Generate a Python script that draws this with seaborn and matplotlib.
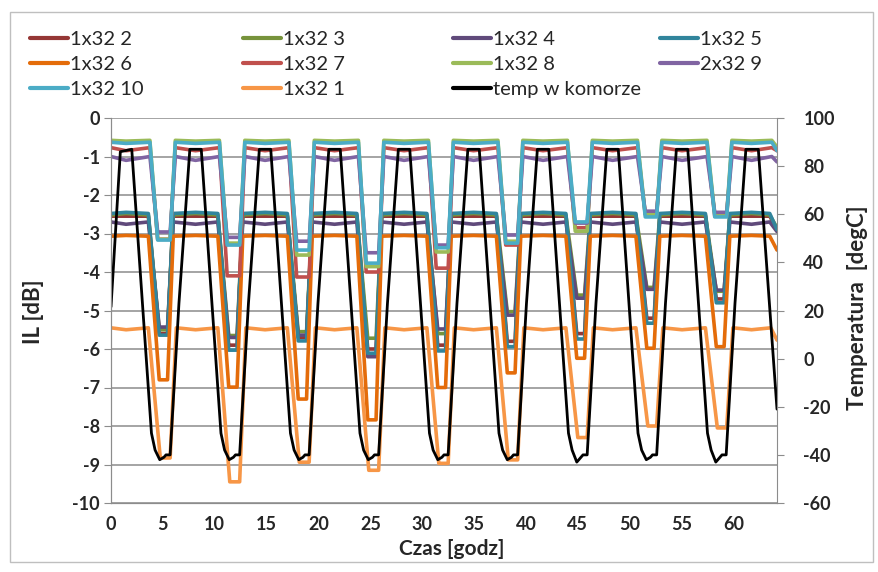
import matplotlib
matplotlib.use("Agg")
import matplotlib.pyplot as plt
from matplotlib.patches import Rectangle
from matplotlib.ticker import MultipleLocator
import seaborn as sns

# ------------------------------------------------------------------
# Breakpoint times [godz]
# each cycle: plateau end, dip start, dip end, plateau back, warm peak
# ------------------------------------------------------------------
t_up = [0.0, 1.45,
        3.75, 4.5, 5.7, 6.2, 8.15,
        10.45, 11.2, 12.4, 12.9, 14.85,
        17.15, 17.9, 19.1, 19.6, 21.55,
        23.85, 24.6, 25.8, 26.3, 28.25,
        30.6, 31.35, 32.5, 33.0, 34.95,
        37.3, 38.05, 39.2, 39.7, 41.65,
        44.0, 44.75, 45.9, 46.4, 48.35,
        50.75, 51.5, 52.6, 53.1, 55.05,
        57.45, 58.2, 59.35, 59.85, 61.75,
        63.7, 64.2]

t_low = [0.0, 1.45,
         3.6, 4.65, 5.45, 6.0, 8.15,
         10.3, 11.35, 12.15, 12.7, 14.85,
         17.0, 18.05, 18.85, 19.4, 21.55,
         23.7, 24.75, 25.55, 26.1, 28.25,
         30.45, 31.5, 32.25, 32.8, 34.95,
         37.15, 38.2, 38.95, 39.5, 41.65,
         43.85, 44.9, 45.65, 46.2, 48.35,
         50.6, 51.65, 52.35, 52.9, 55.05,
         57.3, 58.35, 59.1, 59.65, 61.75,
         63.5, 64.2]

t_ref = [0.0, 1.45,
         3.6, 4.75, 5.7, 6.3, 8.15,
         10.3, 11.45, 12.4, 13.0, 14.85,
         17.0, 18.15, 19.1, 19.7, 21.55,
         23.7, 24.85, 25.8, 26.4, 28.25,
         30.45, 31.6, 32.5, 33.1, 34.95,
         37.15, 38.3, 39.2, 39.8, 41.65,
         43.85, 45.0, 45.9, 46.5, 48.35,
         50.6, 51.75, 52.6, 53.2, 55.05,
         57.3, 58.45, 59.35, 59.95, 61.75,
         63.6, 64.2]

# chamber temperature [degC]
t_temp = [0.0,
          0.9, 2.0, 3.4, 3.9, 4.25, 4.7, 5.1, 5.3, 5.7, 6.55,
          7.6, 8.7, 10.1, 10.6, 10.95, 11.4, 11.8, 12.0, 12.4, 13.25,
          14.3, 15.4, 16.8, 17.3, 17.65, 18.1, 18.5, 18.7, 19.1, 19.95,
          21.0, 22.1, 23.5, 24.0, 24.35, 24.8, 25.2, 25.4, 25.8, 26.65,
          27.7, 28.8, 30.2, 30.7, 31.05, 31.5, 31.9, 32.1, 32.5, 33.35,
          34.4, 35.5, 36.9, 37.4, 37.75, 38.2, 38.6, 38.8, 39.2, 40.05,
          41.1, 42.2, 43.6, 44.1, 44.45, 44.9, 45.3, 45.5, 45.9, 46.75,
          47.8, 48.9, 50.3, 50.8, 51.15, 51.6, 52.0, 52.2, 52.6, 53.45,
          54.5, 55.6, 57.0, 57.5, 57.85, 58.3, 58.7, 58.9, 59.3, 60.15,
          61.2, 62.4, 64.2]
temp = [21.5,
        86, 87, 0, -31, -38, -42, -41, -40, -40, 23,
        87, 87, 0, -31, -38, -42, -41, -40, -40, 23,
        87, 87, 0, -31, -38, -42, -41, -40, -40, 23,
        87, 87, 0, -31, -38, -42, -41, -40, -40, 23,
        87, 87, 0, -31, -38, -42, -41, -40, -40, 23,
        87, 87, 0, -31, -38, -42, -41, -40, -40, 23,
        87, 87, 0, -31, -38, -43, -41, -40, -40, 23,
        87, 87, 0, -31, -38, -42, -41, -40, -40, 23,
        87, 87, 0, -31, -38, -43, -41, -40, -40, 23,
        87, 87, -21]

# ------------------------------------------------------------------
# IL levels [dB]: plateau, value at warm peak, 9 cold dips, last value
# ------------------------------------------------------------------
names = ["1x32 2", "1x32 3", "1x32 4", "1x32 5", "1x32 6",
         "1x32 7", "1x32 8", "2x32 9", "1x32 10", "1x32 1"]
colors = ["#953735", "#77933C", "#604A7B", "#31859C", "#E46C0A",
          "#C0504D", "#9BBB59", "#8064A2", "#4BACC6", "#F79646"]
plateau = [-2.55, -2.52, -2.7, -2.48, -3.07, -0.77, -0.58, -1.0, -0.63, -5.45]
at_peak = [-2.55, -2.48, -2.76, -2.45, -3.05, -0.85, -0.6, -1.1, -0.66, -5.5]
last = [-2.9, -2.85, -2.95, -2.9, -3.43, -0.85, -0.75, -1.14, -0.85, -5.77]

dips_2 = [-5.6, -5.9, -5.7, -6.0, -5.9, -5.8, -5.6, -5.2, -4.7]
dips_3 = [-5.5, -5.65, -5.55, -5.72, -5.6, -5.03, -4.6, -4.4, -4.5]
dips_4 = [-5.43, -5.7, -5.64, -6.2, -5.48, -5.12, -4.68, -4.45, -4.47]
dips_5 = [-5.64, -6.03, -5.79, -6.11, -6.05, -5.94, -5.74, -5.33, -4.8]
dips_6 = [-6.8, -6.99, -7.3, -7.84, -7.0, -6.62, -6.24, -5.98, -5.94]
dips_7 = [-3.15, -4.1, -4.13, -4.0, -3.9, -3.3, -2.85, -2.5, -2.55]
dips_8 = [-3.15, -3.25, -3.56, -3.86, -3.48, -3.2, -2.94, -2.5, -2.5]
dips_9 = [-2.96, -3.1, -3.2, -3.5, -3.3, -3.04, -2.73, -2.42, -2.45]
dips_10 = [-3.17, -3.3, -3.43, -3.77, -3.37, -3.25, -2.7, -2.57, -2.57]
dips_1 = [-8.83, -9.45, -8.94, -9.15, -8.97, -8.88, -8.3, -8.0, -8.05]

dips = [dips_2, dips_3, dips_4, dips_5, dips_6,
        dips_7, dips_8, dips_9, dips_10, dips_1]
times = [t_low, t_low, t_low, t_low, t_low,
         t_up, t_up, t_up, t_up, t_ref]


def vertices(hi, pk, dip, end):
    # arrange the read levels in the same order as the breakpoint times
    y = [hi, pk]
    for d in dip:
        y += [hi, d, d, hi, pk]
    y += [hi, end]
    return y


sns.set_style("white")
plt.rcParams["font.family"] = ["Lato", "DejaVu Sans"]
plt.rcParams["axes.unicode_minus"] = False

fig = plt.figure(figsize=(8.79, 5.72), dpi=100)
ax = fig.add_axes([111 / 879, 1 - 503 / 572, 666 / 879, 385 / 572])
ax2 = ax.twinx()

handles = {}
for name, col, hi, pk, end, dp, tt in zip(names, colors, plateau, at_peak, last, dips, times):
    sns.lineplot(x=tt, y=vertices(hi, pk, dp, end), ax=ax, color=col,
                 linewidth=2.6, sort=False, estimator=None, legend=False)
    handles[name] = ax.lines[-1]

sns.lineplot(x=t_temp, y=temp, ax=ax2, color="black", linewidth=2.0,
             sort=False, estimator=None, legend=False)
handles["temp w komorze"] = ax2.lines[-1]

# axes ranges and ticks
ax.set_xlim(0, 64.2)
ax.set_ylim(-10, 0)
ax2.set_ylim(-60, 100)
ax.xaxis.set_major_locator(MultipleLocator(5))
ax.xaxis.set_minor_locator(MultipleLocator(1))
ax.yaxis.set_major_locator(MultipleLocator(1))
ax2.yaxis.set_major_locator(MultipleLocator(20))

ax.grid(axis="y", color="#8c8c8c", linewidth=1.1)
ax.set_axisbelow(True)
for a in (ax, ax2):
    for s in a.spines.values():
        s.set_color("#8c8c8c")
    a.spines["top"].set_visible(False)
ax.spines["right"].set_visible(False)

ax.tick_params(axis="x", which="major", direction="out", length=5, color="#8c8c8c",
               labelsize=13, pad=4)
ax.tick_params(axis="x", which="minor", direction="in", length=4, color="#8c8c8c")
ax.tick_params(axis="y", direction="out", length=5, color="#8c8c8c", labelsize=13, pad=3)
ax2.tick_params(axis="y", direction="out", length=5, color="#8c8c8c", labelsize=13, pad=14)
for lab in ax.get_xticklabels() + ax.get_yticklabels() + ax2.get_yticklabels():
    lab.set_fontweight("bold")
ax.set_xlabel("")
ax.set_ylabel("")
ax2.set_ylabel("")

fig.text(33 / 879, 1 - 312 / 572, "IL [dB]", rotation=90, ha="center", va="center",
         fontsize=16, fontweight="bold")
fig.text(452 / 879, 1 - 549 / 572, "Czas [godz]", ha="center", va="center",
         fontsize=15, fontweight="bold")
fig.text(858 / 879, 1 - 308 / 572, "Temperatura  [degC]", rotation=90, ha="center",
         va="center", fontsize=16, fontweight="bold")

# legend: four columns laid out like the reference, filled row by row
columns = [["1x32 2", "1x32 6", "1x32 10"],
           ["1x32 3", "1x32 7", "1x32 1"],
           ["1x32 4", "1x32 8", "temp w komorze"],
           ["1x32 5", "2x32 9"]]
col_x = [30, 243, 453, 660]
for labels, x0 in zip(columns, col_x):
    lg = fig.legend([handles[k] for k in labels], labels, loc="upper left",
                    bbox_to_anchor=(x0 / 879, 1 - 31 / 572), frameon=False,
                    fontsize=14.5, handlelength=1.9, handletextpad=0.1,
                    labelspacing=0.4, borderpad=0, borderaxespad=0)
    for ln in lg.get_lines():
        ln.set_linewidth(3.0)

fig.patches.append(Rectangle((10 / 879, 1 - 562 / 572), 863 / 879, 550 / 572,
                             transform=fig.transFigure, fill=False,
                             edgecolor="#bfbfbf", linewidth=1.0))

fig.savefig("out.png", dpi=100)
